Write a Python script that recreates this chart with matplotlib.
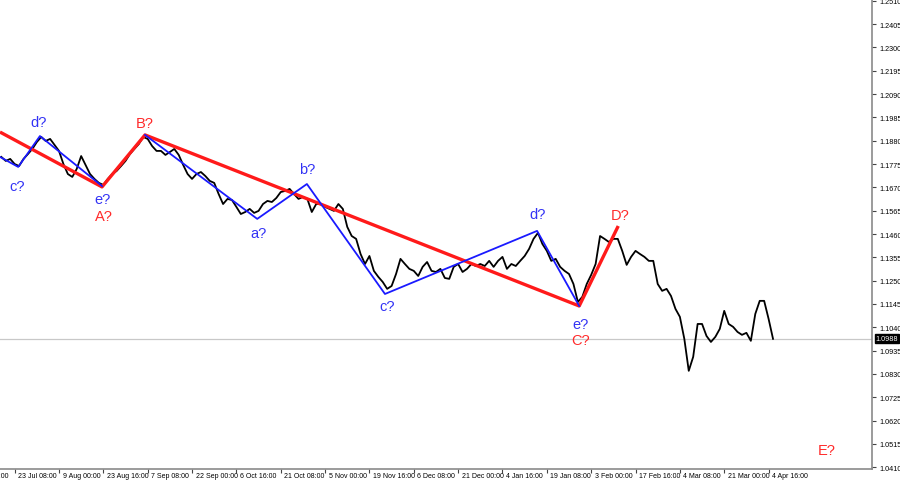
import matplotlib
matplotlib.use("Agg")
import matplotlib.pyplot as plt
import matplotlib.transforms as mtransforms

# ---- data -------------------------------------------------------------
closes = [
    1.1807, 1.1789, 1.1798, 1.1775, 1.1766, 1.1798, 1.1820, 1.1843, 1.1874, 1.1897,
    1.1879, 1.1888, 1.1861, 1.1834, 1.1775, 1.1730, 1.1717, 1.1753, 1.1811, 1.1771,
    1.1730, 1.1708, 1.1690, 1.1681, 1.1708, 1.1730, 1.1744, 1.1766, 1.1789, 1.1820,
    1.1843, 1.1865, 1.1897, 1.1888, 1.1856, 1.1834, 1.1834, 1.1816, 1.1829, 1.1843,
    1.1816, 1.1771, 1.1730, 1.1708, 1.1730, 1.1739, 1.1721, 1.1699, 1.1690, 1.1640,
    1.1595, 1.1618, 1.1613, 1.1582, 1.1550, 1.1559, 1.1573, 1.1555, 1.1564, 1.1595,
    1.1609, 1.1604, 1.1622, 1.1649, 1.1654, 1.1663, 1.1640, 1.1618, 1.1627, 1.1618,
    1.1559, 1.1595, 1.1595, 1.1582, 1.1573, 1.1564, 1.1595, 1.1573, 1.1492, 1.1451,
    1.1438, 1.1370, 1.1325, 1.1361, 1.1294, 1.1267, 1.1244, 1.1213, 1.1226, 1.1280,
    1.1348, 1.1325, 1.1303, 1.1294, 1.1271, 1.1312, 1.1334, 1.1294, 1.1289, 1.1303,
    1.1262, 1.1258, 1.1312, 1.1325, 1.1289, 1.1303, 1.1325, 1.1316, 1.1325, 1.1316,
    1.1339, 1.1312, 1.1339, 1.1357, 1.1303, 1.1325, 1.1316, 1.1339, 1.1361, 1.1393,
    1.1438, 1.1465, 1.1415, 1.1384, 1.1339, 1.1348, 1.1312, 1.1294, 1.1280, 1.1235,
    1.1154, 1.1177, 1.1235, 1.1276, 1.1325, 1.1451, 1.1438, 1.1424, 1.1438, 1.1438,
    1.1384, 1.1321, 1.1357, 1.1384, 1.1370, 1.1357, 1.1339, 1.1339, 1.1235, 1.1204,
    1.1213, 1.1181, 1.1123, 1.1087, 1.0988, 1.0844, 1.0907, 1.1055, 1.1055, 1.1001,
    1.0974, 1.0997, 1.1033, 1.1114, 1.1055, 1.1042, 1.1019, 1.1006, 1.1015, 1.0979,
    1.1100, 1.1159, 1.1159, 1.1078, 1.0988,
]
bars = list(range(len(closes)))
last_price = 1.0988

# main (red) wave count
red_idx = [-0.3, 22.7, 32.4, 130.3, 139.1]
red_px = [1.1919, 1.1672, 1.1906, 1.1136, 1.1496]

# sub-waves (blue)
blue1_idx = [-0.3, 3.8, 8.7, 22.7]
blue1_px = [1.1807, 1.1762, 1.1901, 1.1676]
blue2_idx = [32.4, 57.7, 68.9, 86.5, 120.8, 130.3]
blue2_px = [1.1906, 1.1528, 1.1685, 1.1190, 1.1474, 1.1136]

# wave labels: text, bar index, price, colour key
labels_text = ["c?", "d?", "e?", "A?", "B?", "a?", "b?", "c?", "d?", "D?", "e?", "C?", "E?"]
labels_idx = [3.5, 8.5, 22.9, 23.2, 32.4, 57.9, 68.9, 87.0, 120.8, 139.5, 130.7, 130.7, 186.0]
labels_px = [1.1676, 1.1964, 1.1618, 1.1541, 1.1960, 1.1465, 1.1753, 1.1136, 1.1550,
             1.1546, 1.1055, 1.0983, 1.0488]
labels_col = ["b", "b", "b", "r", "r", "b", "b", "b", "b", "r", "b", "r", "r"]

y_ticks = [1.0410, 1.0515, 1.0620, 1.0725, 1.0830, 1.0935, 1.1040, 1.1145, 1.1250,
           1.1355, 1.1460, 1.1565, 1.1670, 1.1775, 1.1880, 1.1985, 1.2090, 1.2195,
           1.2300, 1.2405, 1.2510]
x_tick_idx = [-7, 3, 13, 23, 33, 43, 53, 63, 73, 83, 93, 103, 113, 123, 133, 143, 153, 163, 173]
x_tick_lab = ["8 Jul 16:00", "23 Jul 08:00", "9 Aug 00:00", "23 Aug 16:00", "7 Sep 08:00",
              "22 Sep 00:00", "6 Oct 16:00", "21 Oct 08:00", "5 Nov 00:00", "19 Nov 16:00",
              "6 Dec 08:00", "21 Dec 00:00", "4 Jan 16:00", "19 Jan 08:00", "3 Feb 00:00",
              "17 Feb 16:00", "4 Mar 08:00", "21 Mar 00:00", "4 Apr 16:00"]

# ---- figure -----------------------------------------------------------
W, H = 900, 485
fig = plt.figure(figsize=(W / 100, H / 100), dpi=100)
ax = fig.add_axes([0, 15 / H, 872 / W, 1 - 15 / H])

BLUE = "#1a1aff"
RED = "#ff1a1a"
ax.axhline(last_price, color="#c8c8c8", lw=0.9, zorder=1)
ax.plot(bars, closes, color="black", lw=1.3, zorder=2)
ax.plot(red_idx, red_px, color=RED, lw=2.4, zorder=3, solid_capstyle="butt")
ax.plot(blue1_idx, blue1_px, color=BLUE, lw=1.3, zorder=4)
ax.plot(blue2_idx, blue2_px, color=BLUE, lw=1.3, zorder=4)

colmap = {"b": "#3333f5", "r": "#ff2a2a"}
for t, xi, yp, c in zip(labels_text, labels_idx, labels_px, labels_col):
    ax.text(xi, yp, t, color=colmap[c], fontsize=10.5, ha="center", va="center",
            family=["Liberation Sans", "DejaVu Sans"], zorder=5)

# spines
for s in ["top", "left"]:
    ax.spines[s].set_visible(False)
for s in ["right", "bottom"]:
    ax.spines[s].set_color("#8a8a8a")
    ax.spines[s].set_linewidth(1.2)

tick_font = ["Liberation Sans", "DejaVu Sans"]
ax.yaxis.tick_right()
ax.set_yticks(y_ticks)
ax.set_yticklabels([f"{v:.4f}" for v in y_ticks], family=tick_font, fontsize=5.2)
ax.tick_params(axis="y", direction="out", length=3, width=0.8, color="#444444", pad=2)

ax.set_xticks(x_tick_idx)
ax.set_xticklabels([])
ax.tick_params(axis="x", direction="out", length=3, width=0.8, color="#444444")

# limits after ticks (set_xticks may expand the view)
ax.set_xlim(-0.3, -0.3 + 872 / 4.435)
ax.set_ylim(1.0402, 1.2518)

trans = mtransforms.blended_transform_factory(ax.transData, fig.transFigure)
for xi, lab in zip(x_tick_idx, x_tick_lab):
    ax.text(xi + 0.8, 8 / H, lab, transform=trans, ha="left", va="center",
            fontsize=5.0, family=tick_font, clip_on=False)

# current price box
ytrans = mtransforms.blended_transform_factory(ax.transAxes, ax.transData)
ax.text(1.004, last_price, f"{last_price:.4f}", transform=ytrans, ha="left", va="center",
        fontsize=5.2, family=tick_font, color="white", clip_on=False,
        bbox=dict(boxstyle="square,pad=0.12", facecolor="black", edgecolor="black"))

fig.savefig("out.png", dpi=100, facecolor="white")
